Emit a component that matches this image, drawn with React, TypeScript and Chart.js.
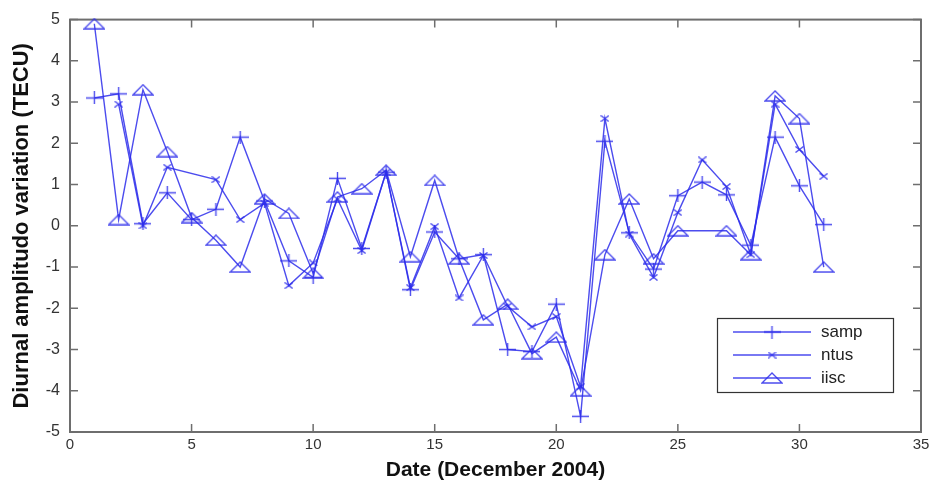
import React, { useEffect, useRef } from "react";
import { Chart, registerables } from "chart.js";

Chart.register(...registerables);

const days = Array.from({ length: 31 }, (_, i) => i + 1);
const samp = [3.1, 3.2, 0.05, 0.8, 0.15, 0.4, 2.15, 0.6, -0.85, -1.25, 1.15, -0.55, 1.3, -1.55, -0.15, -0.8, -0.7, -3.0, -3.05, -1.9, -4.62, 2.05, -0.17, -1.05, 0.73, 1.06, 0.75, -0.47, 2.15, 0.97, 0.03];
const ntus = [null, 2.95, 0.0, 1.42, null, 1.12, 0.15, 0.55, -1.45, -0.9, 0.65, -0.6, 1.3, -1.5, -0.02, -1.75, -0.72, -1.95, -2.45, -2.2, -3.9, 2.6, -0.2, -1.25, 0.32, 1.6, 0.95, -0.7, 2.95, 1.85, 1.2];
const iisc = [4.9, 0.15, 3.3, 1.8, 0.2, -0.35, -1.0, 0.65, 0.3, -1.15, 0.7, 0.9, 1.35, -0.75, 1.1, -0.8, -2.28, -1.9, -3.1, -2.7, -4.0, -0.7, 0.65, -0.8, -0.12, null, -0.12, -0.7, 3.15, 2.6, -1.0];
const seriesNames = ["samp", "ntus", "iisc"];
const xTicks = [0, 5, 10, 15, 20, 25, 30, 35];
const yTicks = [-5, -4, -3, -2, -1, 0, 1, 2, 3, 4, 5];

const LINE = "rgba(45,45,235,0.85)";

function makeMarker(kind: string): HTMLCanvasElement {
  const c = document.createElement("canvas");
  const dims: Record<string, [number, number]> = { plus: [17, 13], x: [9, 7], tri: [22, 12] };
  const [w, h] = dims[kind];
  c.width = w;
  c.height = h;
  const g = c.getContext("2d")!;
  g.strokeStyle = LINE;
  g.lineWidth = 1.4;
  g.beginPath();
  if (kind === "plus") {
    g.moveTo(0, h / 2);
    g.lineTo(w, h / 2);
    g.moveTo(w / 2, 0);
    g.lineTo(w / 2, h);
  } else if (kind === "x") {
    g.moveTo(0.5, 0.5);
    g.lineTo(w - 0.5, h - 0.5);
    g.moveTo(w - 0.5, 0.5);
    g.lineTo(0.5, h - 0.5);
  } else {
    g.moveTo(1, h - 1);
    g.lineTo(w - 1, h - 1);
    g.lineTo(w / 2, 1);
    g.closePath();
  }
  g.stroke();
  return c;
}

export default function App() {
  const ref = useRef<HTMLCanvasElement>(null);

  useEffect(() => {
    const canvas = ref.current!;
    const markers = [makeMarker("plus"), makeMarker("x"), makeMarker("tri")];
    const allData = [samp, ntus, iisc];

    const framePlugin = {
      id: "frame",
      beforeDatasetsDraw(chart: any) {
        const { ctx, chartArea: a, scales } = chart;
        ctx.save();
        ctx.strokeStyle = "#6e6e6e";
        ctx.lineWidth = 2;
        ctx.strokeRect(a.left, a.top, a.right - a.left, a.bottom - a.top);
        ctx.lineWidth = 1.5;
        const tl = 8;
        ctx.beginPath();
        for (const v of xTicks) {
          const px = scales.x.getPixelForValue(v);
          ctx.moveTo(px, a.bottom);
          ctx.lineTo(px, a.bottom - tl);
          ctx.moveTo(px, a.top);
          ctx.lineTo(px, a.top + tl);
        }
        for (const v of yTicks) {
          const py = scales.y.getPixelForValue(v);
          ctx.moveTo(a.left, py);
          ctx.lineTo(a.left + tl, py);
          ctx.moveTo(a.right, py);
          ctx.lineTo(a.right - tl, py);
        }
        ctx.stroke();
        ctx.restore();
      },
      afterDraw(chart: any) {
        const { ctx } = chart;
        const bx = 717, by = 318, bw = 176, bh = 74;
        ctx.save();
        ctx.fillStyle = "#ffffff";
        ctx.fillRect(bx, by, bw, bh);
        ctx.strokeStyle = "#333333";
        ctx.lineWidth = 1.2;
        ctx.strokeRect(bx + 0.5, by + 0.5, bw, bh);
        const rows = [332, 355, 378];
        ctx.font = "17px 'Liberation Sans', Arial, sans-serif";
        ctx.textBaseline = "middle";
        ctx.textAlign = "left";
        rows.forEach((ry, i) => {
          ctx.strokeStyle = LINE;
          ctx.lineWidth = 1.3;
          ctx.beginPath();
          ctx.moveTo(733, ry);
          ctx.lineTo(811, ry);
          ctx.stroke();
          const m = markers[i];
          ctx.drawImage(m, 772 - m.width / 2, ry - m.height / 2);
          ctx.fillStyle = "#222222";
          ctx.fillText(seriesNames[i], 821, ry);
        });
        ctx.restore();
      },
    };

    const chart = new Chart(canvas, {
      type: "line",
      data: {
        datasets: allData.map((arr, i) => ({
          label: seriesNames[i],
          data: days.map((d, j) => ({ x: d, y: arr[j] as any })),
          borderColor: LINE,
          backgroundColor: "transparent",
          borderWidth: 1.4,
          pointStyle: markers[i] as any,
          pointRadius: 6,
          spanGaps: true,
          tension: 0,
          clip: false as any,
        })),
      },
      options: {
        responsive: false,
        animation: false,
        layout: { padding: { top: 17, right: 16, left: 0, bottom: 0 } },
        plugins: { legend: { display: false }, tooltip: { enabled: false } },
        scales: {
          x: {
            type: "linear",
            min: 0,
            max: 35,
            afterFit: (s: any) => { s.height = 54; },
            afterBuildTicks: (s: any) => { s.ticks = xTicks.map((v) => ({ value: v })); },
            grid: { display: false, drawTicks: false },
            border: { display: false },
            ticks: {
              padding: 4,
              color: "#333333",
              font: { family: "'Liberation Sans', Arial, sans-serif", size: 15 },
            },
            title: {
              display: true,
              text: "Date (December 2004)",
              color: "#111111",
              font: { family: "'Liberation Sans', Arial, sans-serif", size: 21, weight: "bold" },
              padding: { top: 0, bottom: 3 },
            },
          },
          y: {
            type: "linear",
            min: -5,
            max: 5,
            afterFit: (s: any) => { s.width = 70; },
            afterBuildTicks: (s: any) => { s.ticks = yTicks.map((v) => ({ value: v })); },
            grid: { display: false, drawTicks: false },
            border: { display: false },
            ticks: {
              padding: 10,
              color: "#333333",
              font: { family: "'Liberation Sans', Arial, sans-serif", size: 16 },
            },
            title: {
              display: true,
              text: "Diurnal amplitudo variation (TECU)",
              color: "#111111",
              font: { family: "'Liberation Sans', Arial, sans-serif", size: 22, weight: "bold" },
              padding: { top: 9, bottom: 0 },
            },
          },
        },
      },
      plugins: [framePlugin],
    });

    return () => chart.destroy();
  }, []);

  return (
    <div style={{ position: "absolute", left: 0, top: 0, width: 937, height: 486, background: "#fff" }}>
      <canvas ref={ref} width={937} height={486} />
    </div>
  );
}
